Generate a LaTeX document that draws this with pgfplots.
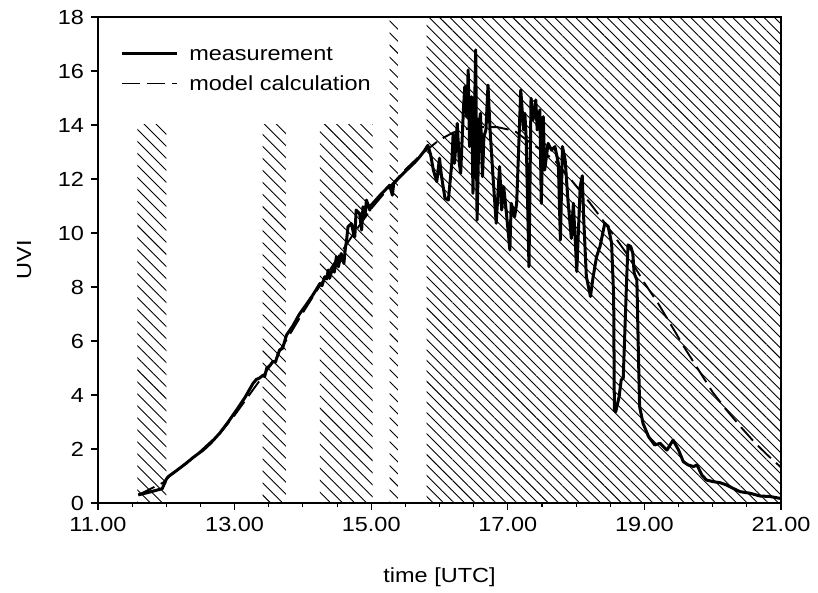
\documentclass[border=0pt]{standalone}
\usepackage{fontspec}
\setmainfont{Liberation Sans}[FakeStretch=1.15]
\usepackage{pgfplots}
\pgfplotsset{compat=1.18}
\usetikzlibrary{patterns.meta}

\pgfplotstableread{
t uvi
11.59 0.30
11.75 0.40
11.94 0.53
12.00 0.88
12.03 0.98
12.15 1.20
12.29 1.47
12.40 1.70
12.54 1.96
12.65 2.22
12.78 2.58
12.90 2.98
13.03 3.45
13.15 3.90
13.27 4.43
13.32 4.58
13.36 4.62
13.42 4.74
13.44 4.68
13.47 4.99
13.52 5.10
13.56 5.24
13.60 5.22
13.61 5.32
13.66 5.67
13.70 5.72
13.71 5.79
13.76 6.22
13.85 6.55
13.95 7.00
14.05 7.35
14.15 7.72
14.25 8.13
14.28 8.05
14.32 8.38
14.35 8.30
14.37 8.63
14.39 8.32
14.44 8.75
14.46 8.55
14.49 9.12
14.52 8.75
14.56 9.24
14.60 8.87
14.62 9.40
14.64 9.74
14.66 10.23
14.71 10.35
14.74 10.00
14.76 9.86
14.78 10.85
14.83 10.72
14.86 10.11
14.88 10.97
14.91 10.60
14.93 11.22
14.98 10.85
15.00 11.03
15.06 11.20
15.13 11.40
15.20 11.58
15.27 11.77
15.31 11.40
15.33 11.84
15.42 12.08
15.50 12.28
15.57 12.45
15.64 12.62
15.71 12.82
15.78 13.05
15.83 13.25
15.87 12.90
15.91 12.33
15.96 11.90
16.00 12.77
16.03 12.09
16.08 11.29
16.13 11.22
16.18 12.58
16.20 13.69
16.22 12.58
16.26 14.06
16.29 12.58
16.31 12.21
16.35 14.56
16.37 15.42
16.40 14.31
16.42 16.04
16.44 13.20
16.47 15.05
16.49 11.47
16.53 16.78
16.55 10.48
16.58 14.06
16.60 14.43
16.63 12.09
16.65 13.57
16.68 13.82
16.71 15.48
16.74 13.82
16.79 11.84
16.83 10.36
16.88 12.46
16.91 10.85
16.94 11.72
16.98 10.73
17.03 9.37
17.05 11.10
17.10 10.60
17.13 11.10
17.19 15.30
17.23 13.82
17.25 14.43
17.27 13.45
17.31 8.75
17.34 14.99
17.37 14.19
17.41 14.93
17.43 13.82
17.47 14.56
17.49 11.10
17.52 14.31
17.54 12.33
17.59 13.32
17.64 13.07
17.69 13.20
17.74 12.58
17.77 9.74
17.80 13.20
17.84 12.70
17.88 11.23
17.93 9.80
17.96 11.10
18.01 8.57
18.06 11.72
18.09 12.12
18.11 10.61
18.15 8.39
18.21 7.65
18.25 8.39
18.30 9.13
18.35 9.50
18.42 10.36
18.47 10.24
18.52 9.62
18.55 7.65
18.56 3.44
18.58 3.38
18.63 3.94
18.66 4.56
18.69 4.62
18.74 8.26
18.76 9.56
18.80 9.50
18.83 9.25
18.85 8.51
18.89 8.26
18.91 5.79
18.93 3.57
18.98 2.95
19.06 2.46
19.15 2.15
19.23 2.21
19.33 1.96
19.42 2.33
19.50 1.96
19.57 1.53
19.64 1.41
19.72 1.35
19.77 1.41
19.84 1.04
19.91 0.85
20.01 0.79
20.11 0.75
20.20 0.67
20.30 0.54
20.40 0.42
20.55 0.36
20.69 0.26
20.84 0.24
20.99 0.17
}\measured

\pgfplotstableread{
t uvi
11.59 0.30
11.95 0.75
12.05 1.00
12.30 1.48
12.50 1.92
12.80 2.62
13.00 3.25
13.20 3.95
13.50 5.00
13.75 6.00
14.00 7.05
14.25 8.05
14.50 9.05
14.75 10.00
15.00 10.90
15.25 11.65
15.50 12.35
15.75 12.95
16.00 13.45
16.20 13.72
16.40 13.86
16.60 13.92
16.85 13.92
17.10 13.78
17.30 13.40
17.50 13.05
17.70 12.65
17.93 11.96
18.20 11.12
18.50 10.10
18.75 9.20
19.00 8.15
19.20 7.40
19.40 6.55
19.60 5.70
19.80 4.90
20.00 4.10
20.20 3.45
20.40 2.85
20.60 2.28
20.80 1.78
21.00 1.32
}\model

\begin{document}
\fontsize{20.5}{24}\selectfont
\begin{tikzpicture}
\useasboundingbox (-98bp,-90bp) rectangle (720bp,503bp);
\begin{axis}[
  at={(0,0)}, anchor=south west,
  scale only axis, width=683bp, height=486bp,
  xmin=11, xmax=21, ymin=0, ymax=18,
  xtick={11,13,...,21}, minor x tick num=3,
  ytick={0,2,...,18},
  tick pos=left, tick align=outside,
  major tick length=7bp, minor tick length=4bp,
  every tick/.style={black, line width=1.1bp},
  axis line style={line width=1.2bp},
  /pgf/number format/assume math mode=true,
  xticklabel={\pgfmathprintnumber[fixed,fixed zerofill,precision=2]{\tick}},
  xlabel={time [UTC]}, ylabel={UVI},
  every axis x label/.style={at={(axis description cs:0.5,-0.152)}, anchor=center},
  every axis y label/.style={at={(axis description cs:-0.108,0.5)}, anchor=center, rotate=90},
  legend style={draw=none, fill=none, at={(axis description cs:0.028,0.945)}, anchor=north west,
    row sep=14bp, nodes={inner sep=1bp, text depth=0pt}},
  legend cell align=left,
  legend image code/.code={\draw[#1] (0bp,0bp) -- (55bp,0bp);},
  legend style={column sep=0bp, /tikz/every odd column/.append style={column sep=10bp}},
]
\addplot[forget plot, draw=none, pattern={Lines[angle=-45,distance=8.5bp,line width=0.9bp]}] coordinates {(11.575,14) (12.0,14)} \closedcycle;
\addplot[forget plot, draw=none, pattern={Lines[angle=-45,distance=8.5bp,line width=0.9bp]}] coordinates {(13.41,14) (13.75,14)} \closedcycle;
\addplot[forget plot, draw=none, pattern={Lines[angle=-45,distance=8.5bp,line width=0.9bp]}] coordinates {(14.25,14) (15.02,14)} \closedcycle;
\addplot[forget plot, draw=none, pattern={Lines[angle=-45,distance=8.5bp,line width=0.9bp]}] coordinates {(15.27,18) (15.39,18)} \closedcycle;
\addplot[forget plot, draw=none, pattern={Lines[angle=-45,distance=7.4bp,line width=0.9bp]}] coordinates {(15.81,18) (21,18)} \closedcycle;
\addplot[black, line width=3bp, line join=round] table[x=t,y=uvi] {\measured};
\addplot[black, line width=1.9bp, dash pattern=on 18bp off 7bp] table[x=t,y=uvi] {\model};
\legend{measurement, model calculation}
\end{axis}
\end{tikzpicture}
\end{document}
